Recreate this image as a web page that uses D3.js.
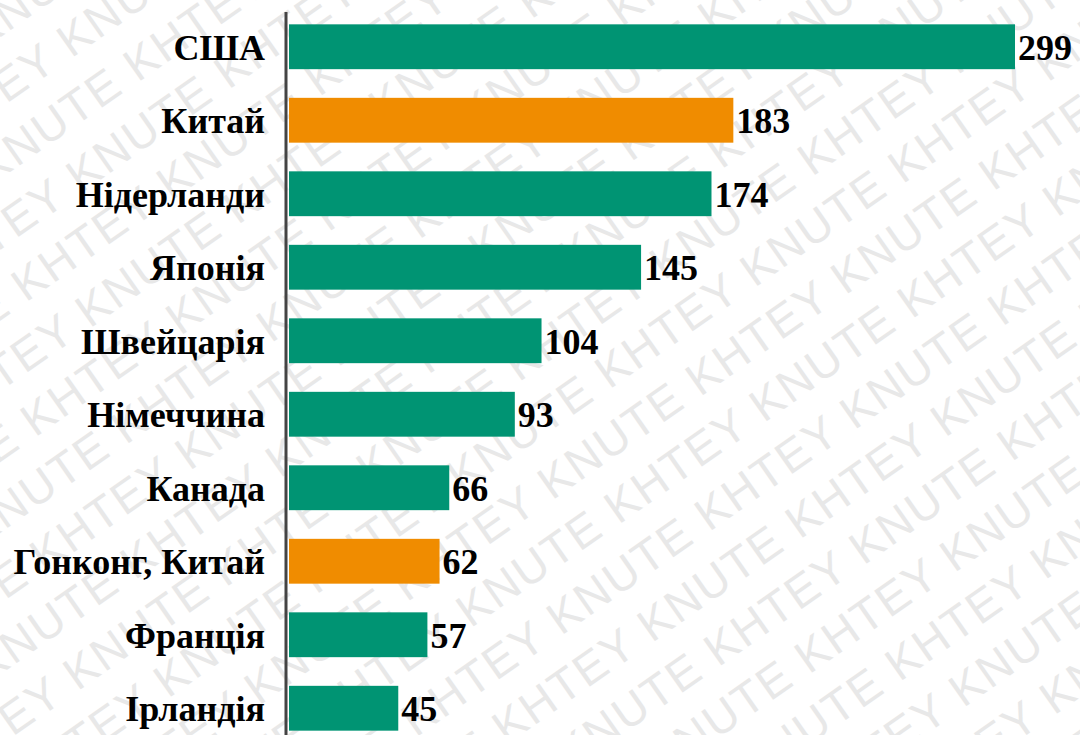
<!doctype html>
<html>
<head>
<meta charset="utf-8">
<script src="https://d3js.org/d3.v7.min.js"></script>
</head>
<body style="margin:0">
<script>
// data
var countries = ["США", "Китай", "Нідерланди", "Японія", "Швейцарія", "Німеччина", "Канада", "Гонконг, Китай", "Франція", "Ірландія"];
var values = [299, 183, 174, 145, 104, 93, 66, 62, 57, 45];
var highlight = ["Китай", "Гонконг, Китай"];

var W = 1080, H = 735;

var svg = d3.select("body").append("svg")
    .attr("width", W)
    .attr("height", H)
    .style("display", "block")
    .style("font-family", "'Liberation Serif'");

var x = d3.scaleLinear()
    .domain([0, 299])
    .range([289, 1015]);

var y = d3.scaleBand()
    .domain(countries)
    .range([10, 745])
    .paddingInner(0.39)
    .paddingOuter(0.195);

// y axis labels
var yAxis = svg.append("g")
    .attr("transform", "translate(286,0)")
    .call(d3.axisLeft(y).tickSize(0).tickPadding(21));
yAxis.attr("font-family", null).attr("font-size", null);
yAxis.selectAll("text")
    .attr("dy", "0.36em")
    .style("font-family", function() { return "'Liberation Serif'"; })
    .style("font-weight", "bold")
    .style("font-size", "36px")
    .style("fill", "#000");

// bars
svg.selectAll(".bar")
    .data(countries)
  .enter().append("rect")
    .attr("class", "bar")
    .attr("x", x(0))
    .attr("y", function(d) { return y(d); })
    .attr("width", function(d, i) { return x(values[i]) - x(0); })
    .attr("height", y.bandwidth())
    .attr("fill", function(d) { return highlight.indexOf(d) >= 0 ? "#f08c00" : "#009473"; });

// value labels
svg.selectAll(".val")
    .data(countries)
  .enter().append("text")
    .attr("class", "val")
    .attr("x", function(d, i) { return x(values[i]) + 3; })
    .attr("y", function(d) { return y(d) + y.bandwidth() / 2; })
    .attr("dy", "0.36em")
    .style("font-family", function() { return "'Liberation Serif'"; })
    .style("font-weight", "bold")
    .style("font-size", "36px")
    .style("fill", "#000")
    .text(function(d, i) { return values[i]; });

// axis line on top of bars
yAxis.raise();
yAxis.select(".domain")
    .attr("d", "M0,12V735")
    .attr("stroke", "#444")
    .attr("stroke-width", 3);

// watermark, put behind everything
var wm = svg.insert("g", ":first-child")
    .attr("transform", "rotate(-35," + W / 2 + "," + H / 2 + ")")
    .style("font-family", "'Liberation Sans'")
    .style("fill", "#e8e8e8")
    .style("font-size", "46px")
    .style("letter-spacing", "2px");
for (var r = -11; r < 12; r++) {
  wm.append("text")
      .attr("x", -560 + (r % 3) * 70)
      .attr("y", r * 58 + H / 2)
      .text(d3.range(9).map(function() { return "KHTEY KNUTE"; }).join(" "));
}
</script>
</body>
</html>
